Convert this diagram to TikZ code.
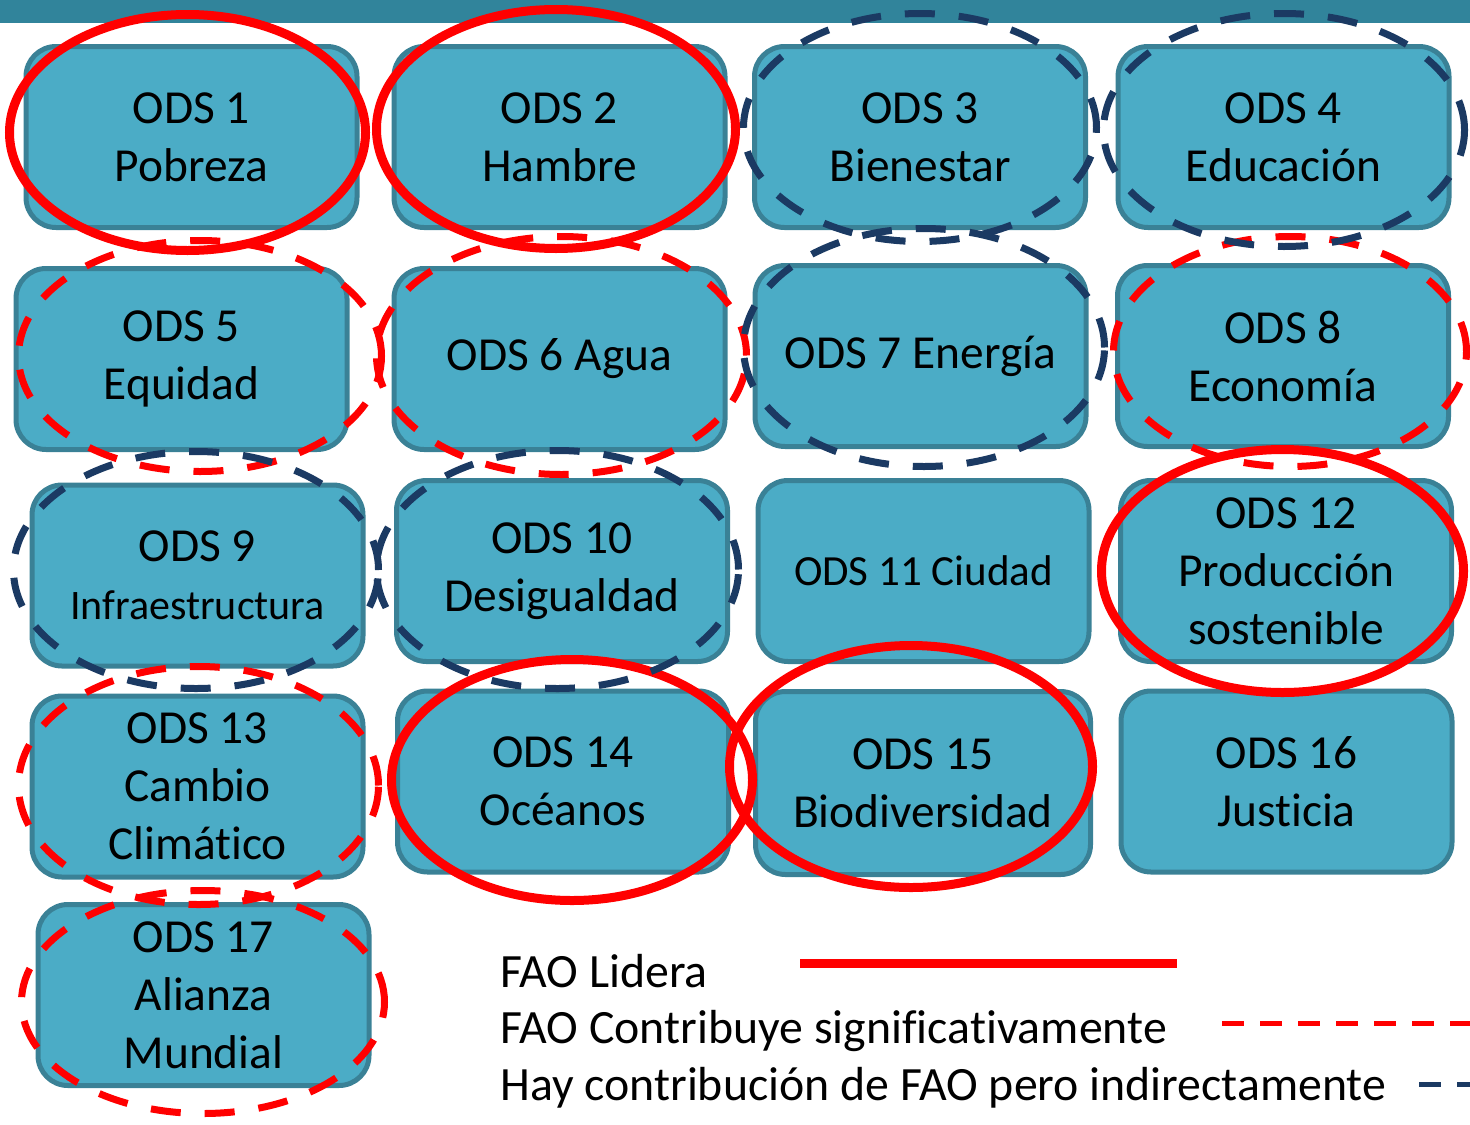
\documentclass[tikz,border=0pt]{standalone}
\usepackage{fontspec}
\setmainfont{Carlito}[Ligatures=NoCommon]
\usepackage{tikz}
\usetikzlibrary{shapes,positioning}
\definecolor{barra}{HTML}{31849B}
\definecolor{odsfondo}{HTML}{4BACC6}
\definecolor{odsborde}{HTML}{3A8196}
\definecolor{azulosc}{HTML}{1B3A63}
\tikzset{
    ods/.style={draw=odsborde, fill=odsfondo, line width=2.5pt, rounded corners=15pt,
                minimum width=165.5pt, minimum height=90.5pt, inner sep=0pt, align=center,
                font=\fontsize{23.7}{29}\selectfont},
    odsS/.style={ods, font=\fontsize{21.5}{29}\selectfont},
    lidera/.style={draw=red, ellipse, line width=4.5pt, inner sep=0pt},
    contribuye/.style={draw=red, ellipse, line width=3.5pt, inner sep=0pt, dash pattern=on 15pt off 12pt},
    indirecta/.style={draw=azulosc, ellipse, line width=3.5pt, inner sep=0pt, dash pattern=on 15pt off 12pt},
    leyenda/.style={anchor=base west, inner sep=0pt, font=\fontsize{23.9}{29}\selectfont},
}
\begin{document}
\begin{tikzpicture}[x=0.5pt, y=-0.5pt]
    \useasboundingbox (0,0) rectangle (1470,1124);
    \fill[barra] (0,0) rectangle (1470,23);

    % Objetivos
    \node[ods] (o1) at (191.5,137) {ODS 1\\Pobreza};
    \node[ods] (o2) at (559.5,137) {ODS 2\\Hambre};
    \node[ods] (o3) at (920,137) {ODS 3\\Bienestar};
    \node[ods] (o4) at (1283.5,137) {ODS 4\\Educación};
    \node[ods] (o5) at (181.5,359) {ODS 5\\Equidad};
    \node[ods] (o6) at (559.5,359) {ODS 6 Agua};
    \node[ods] (o7) at (920.5,356) {ODS 7 Energía};
    \node[ods] (o8) at (1283,356) {ODS 8\\Economía};
    \node[ods] (o9) at (197.5,575.5) {ODS 9\\{\fontsize{21}{29}\selectfont Infraestructura}};
    \node[ods] (o10) at (562,571) {ODS 10\\Desigualdad};
    \node[odsS] (o11) at (923.5,571) {ODS 11 Ciudad};
    \node[ods] (o12) at (1286,571) {ODS 12\\Producción\\sostenible};
    \node[ods] (o13) at (197.5,786.5) {ODS 13\\Cambio\\Climático};
    \node[ods] (o14) at (563,781.5) {ODS 14\\Océanos};
    \node[ods, minimum width=167.5pt, minimum height=91.5pt] (o15) at (923,783) {ODS 15\\Biodiversidad};
    \node[ods] (o16) at (1286.5,781.5) {ODS 16\\Justicia};
    \node[ods] (o17) at (203.5,995) {ODS 17\\Alianza\\Mundial};

    % FAO lidera
    \node[lidera, minimum width=178pt, minimum height=118pt] (e1) at (187.5,132.5) {};
    \node[lidera, minimum width=179.5pt, minimum height=119.5pt] (e2) at (556,129) {};
    \node[lidera, minimum width=181pt, minimum height=121.5pt] (e12) at (1282.5,571) {};
    \node[lidera, minimum width=180.5pt, minimum height=120.5pt] (e14) at (572,780) {};
    \node[lidera, minimum width=181.5pt, minimum height=121pt] (e15) at (911,766.5) {};

    % FAO contribuye
    \node[contribuye, minimum width=181.5pt, minimum height=115.5pt] (e5) at (200,356) {};
    \node[contribuye, minimum width=185pt, minimum height=119pt] (e6) at (561.5,355.5) {};
    \node[contribuye, minimum width=176.5pt, minimum height=115pt] (e8) at (1290,351.5) {};
    \node[contribuye, minimum width=180pt, minimum height=119pt] (e13) at (198.5,785.5) {};
    \node[contribuye, minimum width=181.5pt, minimum height=111.5pt] (e17) at (203,1002) {};

    % indirecta
    \node[indirecta, minimum width=176.5pt, minimum height=114pt] (e3) at (920,127.5) {};
    \node[indirecta, minimum width=180.5pt, minimum height=116.5pt] (e4) at (1284,130) {};
    \node[indirecta, minimum width=180.5pt, minimum height=119pt] (e7) at (924,347.5) {};
    \node[indirecta, minimum width=182.5pt, minimum height=118.5pt] (e9) at (196,570) {};
    \node[indirecta, minimum width=181pt, minimum height=119pt] (e10) at (557.5,569.5) {};

    % Leyenda
    \node[leyenda] (l1) at (500,987) {FAO Lidera};
    \node[leyenda] (l2) at (500,1043) {FAO Contribuye significativamente};
    \node[leyenda] (l3) at (500,1100) {Hay contribución de FAO pero indirectamente};
    \coordinate (f1) at (800,963);
    \coordinate (f2) at (1222,1023);
    \coordinate (f3) at (1419,1084);
    \draw[red, line width=4.5pt] (f1) -- ++(377,0);
    \draw[red, line width=2.5pt, dash pattern=on 11pt off 8pt] (f2) -- ++(248,0);
    \draw[azulosc, line width=2.5pt, dash pattern=on 11pt off 8pt] (f3) -- ++(51,0);
\end{tikzpicture}
\end{document}
